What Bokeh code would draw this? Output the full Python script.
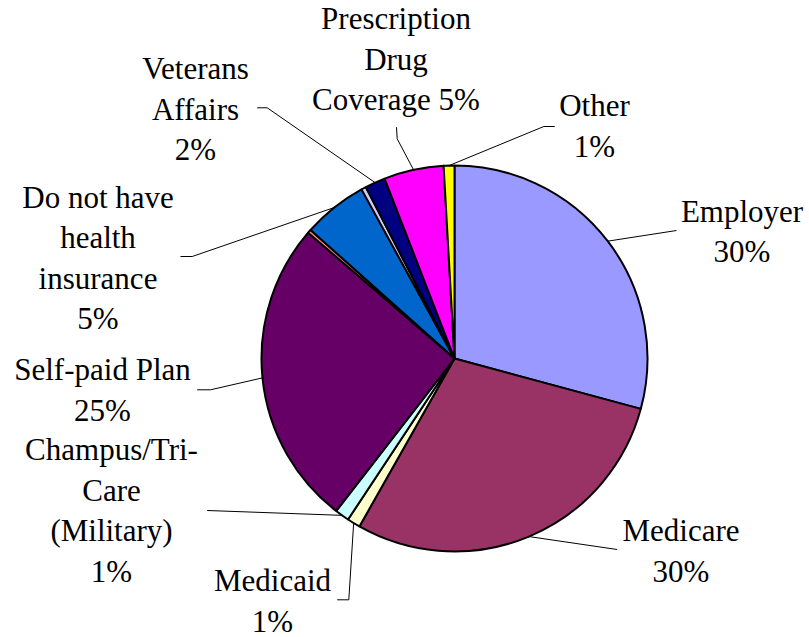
import math
from bokeh.plotting import figure
from bokeh.models import Range1d, ColumnDataSource, Label
from bokeh.embed import file_html
from bokeh.resources import INLINE

# ---- data ----
categories = ["Employer", "Medicare", "Medicaid", "Champus/Tri-Care (Military)",
              "Self-paid Plan", "Unlabeled A", "Do not have health insurance",
              "Unlabeled B", "Veterans Affairs", "Prescription Drug Coverage", "Other"]
shares = [29.2, 29.0, 1.1, 1.2, 25.8, 0.3, 5.4, 0.4, 1.7, 5.0, 0.9]
pct_labels = ["30%", "30%", "1%", "1%", "25%", "", "5%", "", "2%", "5%", "1%"]
colors = ["#9999FF", "#993366", "#FFFFCC", "#CCFFFF", "#660066", "#FF8080",
          "#0066CC", "#CCCCFF", "#000080", "#FF00FF", "#FFFF00"]

# ---- label layout (line breaks, block positions and leader elbows, screen px) ----
label_lines = [
    ["Employer", "{p}"],
    ["Medicare", "{p}"],
    ["Medicaid", "{p}"],
    ["Champus/Tri-", "Care", "(Military)", "{p}"],
    ["Self-paid Plan", "{p}"],
    [],
    ["Do not have", "health", "insurance", "{p}"],
    [],
    ["Veterans", "Affairs", "{p}"],
    ["Prescription", "Drug", "Coverage {p}"],
    ["Other", "{p}"],
]
label_x = [741.5, 680.5, 272, 111, 102, 0, 97.5, 0, 195, 395.5, 594]
label_base = [220.7, 540, 590, 459, 379, 0, 206.7, 0, 78.3, 28.3, 115]
leader_pts = [
    [(676, 230)],
    [(616.7, 549)],
    [(348.3, 599.3), (336.7, 599.3)],
    [(206.7, 510)],
    [(210, 389.3), (196.7, 389.3)],
    [],
    [(191.7, 256), (180, 256)],
    [],
    [(266.7, 107.3), (256.7, 107.3)],
    [(396.7, 138.3), (396, 126.7)],
    [(543.3, 126), (554.3, 126)],
]
LINE_STEP = 40.5
TEXT_SHIFT = -10   # compensates the renderer's baseline offset
CX, CY, R = 454, 358, 193
H = 637

W_FIG, H_FIG = 809, 637
p = figure(width=W_FIG, height=H_FIG, output_backend="svg", toolbar_location=None,
           x_range=Range1d(0, W_FIG), y_range=Range1d(0, H_FIG),
           min_border=0, outline_line_color=None)
p.axis.visible = False
p.grid.visible = False
p.background_fill_color = "white"
p.border_fill_color = "white"

def sy(Y):
    return H - Y

total = sum(shares)
starts, ends, mids = [], [], []
acc = 0.0
for s in shares:
    t0 = acc / total * 360.0
    acc += s
    t1 = acc / total * 360.0
    starts.append(math.radians(90 - t1))
    ends.append(math.radians(90 - t0))
    mids.append((t0 + t1) / 2)

src = ColumnDataSource(dict(start=starts, end=ends, color=colors, cat=categories))
p.wedge(x=CX, y=sy(CY), radius=R, start_angle="start", end_angle="end",
        direction="anticlock", fill_color="color",
        line_color="black", line_width=2, source=src)

# leader lines
for i, pts in enumerate(leader_pts):
    if not pts:
        continue
    th = math.radians(mids[i])
    x0 = CX + R * math.sin(th)
    y0 = CY - R * math.cos(th)
    xs = [x0] + [q[0] for q in pts]
    ys = [sy(y0)] + [sy(q[1]) for q in pts]
    p.line(xs, ys, line_color="black", line_width=1)

# labels
for i, lines in enumerate(label_lines):
    for k, ln in enumerate(lines):
        p.add_layout(Label(x=label_x[i], y=sy(label_base[i] + k * LINE_STEP + TEXT_SHIFT),
                           text=ln.format(p=pct_labels[i]),
                           text_align="center", text_baseline="alphabetic",
                           text_font="Liberation Serif", text_font_size="31px",
                           text_color="black"))

open("out.html", "w").write(file_html(p, INLINE))
